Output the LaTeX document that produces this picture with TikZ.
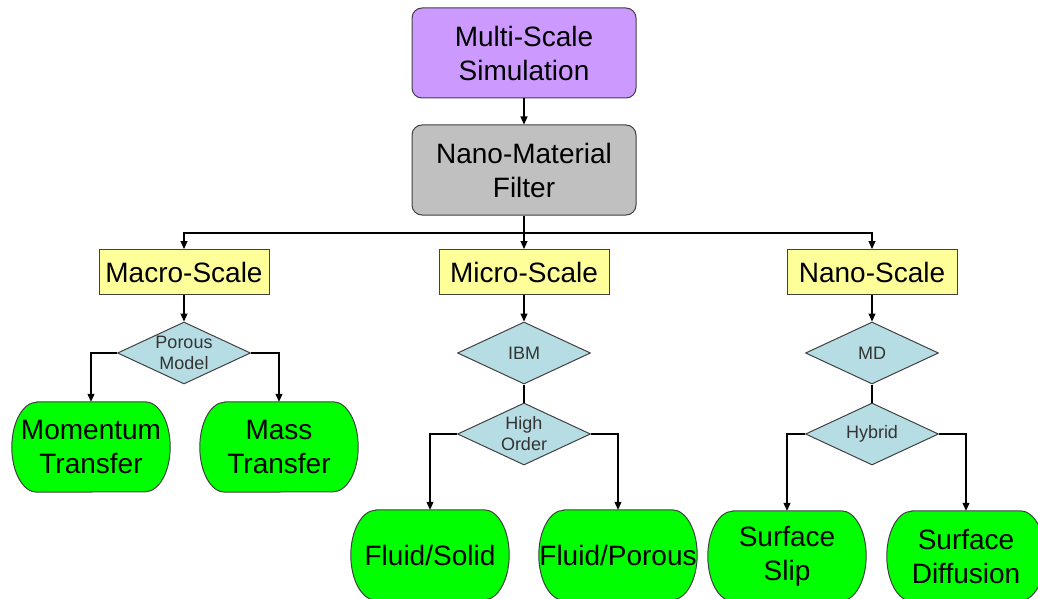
\documentclass[tikz,border=0pt]{standalone}
\usepackage{fontspec}
\setmainfont{Liberation Sans}
\usetikzlibrary{shapes.geometric,arrows.meta,calc,backgrounds}
\definecolor{purp}{HTML}{CC99FF}
\definecolor{grayf}{HTML}{C0C0C0}
\definecolor{yell}{HTML}{FFFF99}
\definecolor{dia}{HTML}{B7DDE4}
\definecolor{grn}{HTML}{00FF00}
\definecolor{bord}{HTML}{404040}
\definecolor{dtext}{HTML}{333333}
\tikzset{
  bigtext/.style={font=\fontsize{28}{34}\selectfont, align=center, text=black},
  topbox/.style={bigtext, draw=bord, line width=1pt, rounded corners=10pt, minimum width=224pt, minimum height=90pt, inner sep=0pt},
  scalebox/.style={bigtext, draw=bord, line width=1pt, fill=yell, minimum width=170pt, minimum height=45pt, inner sep=0pt},
  decision/.style={diamond, draw=bord, line width=1pt, fill=dia, minimum width=133pt, minimum height=62pt, inner sep=0pt},
  dlabel/.style={font=\fontsize{18}{21}\selectfont, align=center, text=dtext},
  result/.style={bigtext, rectangle, minimum width=158pt, minimum height=90pt, inner sep=0pt},
  termshape/.style={draw=bord, line width=1pt, fill=grn},
  arr/.style={line width=1.1pt, -{Triangle[length=8pt,width=7pt]}},
  ln/.style={line width=1.1pt}
}
\begin{document}
\begin{tikzpicture}[x=1pt,y=-1pt]
\useasboundingbox (0,0) rectangle (1038,599);
% top
\node[topbox, fill=purp] (multi) at (524,53) {Multi-Scale\\Simulation};
\node[topbox, fill=grayf] (filter) at (524,170) {Nano-Material\\Filter};
% scale boxes
\node[scalebox] (macro) at (184,272) {Macro-Scale};
\node[scalebox] (micro) at (524,272) {Micro-Scale};
\node[scalebox] (nano) at (872,272) {Nano-Scale};
% diamonds
\node[decision, label={[dlabel]center:Porous\\Model}] (porous) at (184,353) {};
\node[decision, label={[dlabel]center:IBM}] (ibm) at (524,353) {};
\node[decision, label={[dlabel]center:High\\Order}] (high) at (524,434) {};
\node[decision, label={[dlabel]center:MD}] (md) at (872,353) {};
\node[decision, label={[dlabel]center:Hybrid}] (hybrid) at (872,434) {};
% results
\node[result] (mom) at (91,447) {Momentum\\Transfer};
\node[result] (mass) at (279,447) {Mass\\Transfer};
\node[result] (fsolid) at (430,555) {Fluid/Solid};
\node[result] (fporous) at (618,555) {Fluid/Porous};
\node[result] (slip) at (787,556) {Surface\\Slip};
\node[result] (diff) at (966,556) {Surface\\Diffusion};
\begin{scope}[on background layer]
\foreach \n in {mom,mass,fsolid,fporous,slip,diff}{
  \draw[termshape] ($(\n.north west)+(25,0)$) -- ($(\n.north east)+(-25,0)$)
    arc[start angle=90, end angle=-90, x radius=25pt, y radius=45pt]
    -- ($(\n.south west)+(25,0)$)
    arc[start angle=270, end angle=90, x radius=25pt, y radius=45pt] -- cycle;
}
\end{scope}
% connectors
\coordinate (bus) at (524,233);
\draw[arr] (multi) -- (filter);
\draw[ln] (filter.south) -- (bus);
\draw[arr] (bus) -- (micro.north);
\draw[arr] (bus) -| (macro.north);
\draw[arr] (bus) -| (nano.north);
\draw[arr] (macro) -- (porous);
\draw[arr] (micro) -- (ibm);
\draw[arr] (nano) -- (md);
\draw[ln] (ibm.south) -- (high.north);
\draw[ln] (md.south) -- (hybrid.north);
\draw[arr] (porous.west) -| (mom.north);
\draw[arr] (porous.east) -| (mass.north);
\draw[arr] (high.west) -| (fsolid.north);
\draw[arr] (high.east) -| (fporous.north);
\draw[arr] (hybrid.west) -| (slip.north);
\draw[arr] (hybrid.east) -| (diff.north);
\end{tikzpicture}
\end{document}
